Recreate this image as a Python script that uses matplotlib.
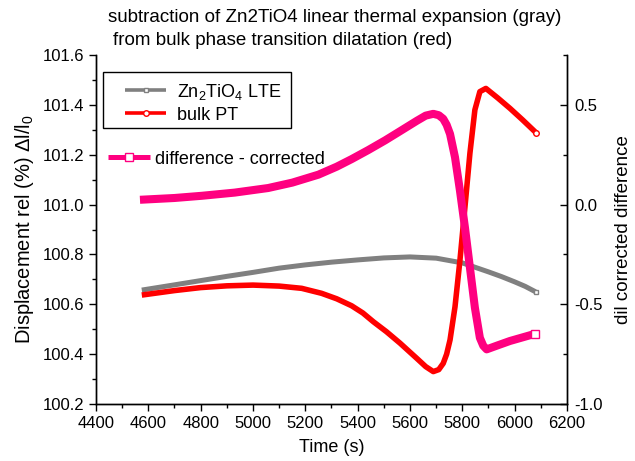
import matplotlib
matplotlib.use("Agg")
import matplotlib.pyplot as plt
from matplotlib.lines import Line2D
from matplotlib.patches import Rectangle
from matplotlib.ticker import MultipleLocator, FormatStrFormatter

plt.rcParams['font.family'] = ['Liberation Sans', 'DejaVu Sans']
plt.rcParams['mathtext.fontset'] = 'custom'
plt.rcParams['mathtext.rm'] = 'Liberation Sans'
plt.rcParams['mathtext.it'] = 'Liberation Sans:italic'

# ---- data ----
t_lte = [4575, 4700, 4800, 4900, 5000, 5100, 5200, 5300, 5400, 5500, 5600, 5700,
         5800, 5900, 5950, 6000, 6040, 6080]
lte = [100.657, 100.678, 100.695, 100.712, 100.728, 100.745, 100.758, 100.769, 100.778,
       100.786, 100.790, 100.785, 100.766, 100.730, 100.711, 100.690, 100.672, 100.650]

t_pt = [4575, 4700, 4800, 4900, 5000, 5100, 5186, 5262, 5320, 5377, 5420, 5460, 5510,
        5562, 5626, 5660, 5689, 5710, 5727, 5740, 5753, 5772, 5791, 5810, 5829, 5848,
        5867, 5890, 5935, 5982, 6030, 6082]
pt = [100.637, 100.655, 100.667, 100.674, 100.677, 100.673, 100.664, 100.644, 100.622,
      100.594, 100.565, 100.530, 100.490, 100.444, 100.383, 100.350, 100.330, 100.338,
      100.363, 100.400, 100.457, 100.590, 100.778, 100.990, 101.206, 101.380, 101.453,
      101.466, 101.428, 101.386, 101.340, 101.288]

t_diff = [4568, 4700, 4804, 4930, 5058, 5150, 5250, 5320, 5377, 5440, 5505, 5562, 5626,
          5660, 5689, 5710, 5727, 5740, 5753, 5772, 5791, 5810, 5829, 5848, 5867, 5880,
          5893, 5935, 5982, 6030, 6078]
diff = [0.024, 0.033, 0.044, 0.060, 0.083, 0.110, 0.150, 0.190, 0.228, 0.273, 0.322,
        0.368, 0.420, 0.446, 0.455, 0.448, 0.430, 0.400, 0.354, 0.237, 0.069, -0.115,
        -0.316, -0.517, -0.668, -0.708, -0.726, -0.706, -0.684, -0.666, -0.648]

GRAY = '#808080'
RED = '#FF0000'
PINK = '#FF0080'

W, H = 635, 461
fig = plt.figure(figsize=(W/100, H/100), dpi=100)
ax = fig.add_axes([96/W, 1-404/H, (567-96)/W, (404-55)/H])
ax2 = ax.twinx()

ax.plot(t_lte, lte, color=GRAY, lw=3.6, solid_capstyle='butt', solid_joinstyle='round', zorder=3)
ax.plot([t_lte[-1]], [lte[-1]], ls='none', marker='s', ms=3.5, mfc='white', mec=GRAY, mew=1, zorder=4)
ax.plot(t_pt, pt, color=RED, lw=4.0, solid_capstyle='butt', solid_joinstyle='round', zorder=3)
ax.plot([t_pt[-1]], [pt[-1]], ls='none', marker='o', ms=4, mfc='white', mec=RED, mew=1, zorder=4)
ax2.plot(t_diff, diff, color=PINK, lw=5.8, solid_capstyle='butt', solid_joinstyle='round', zorder=3)
ax2.plot([t_diff[-1]], [diff[-1]], ls='none', marker='s', ms=6, mfc='white', mec=PINK, mew=1, zorder=4)

ax.set_xlim(4400, 6200)
ax.set_ylim(100.2, 101.6)
ax2.set_ylim(-1.0, 0.75)

ax.xaxis.set_major_locator(MultipleLocator(200))
ax.xaxis.set_minor_locator(MultipleLocator(100))
ax.yaxis.set_major_locator(MultipleLocator(0.2))
ax.yaxis.set_minor_locator(MultipleLocator(0.1))
ax2.yaxis.set_major_locator(MultipleLocator(0.5))
ax2.yaxis.set_minor_locator(MultipleLocator(0.25))
ax.yaxis.set_major_formatter(FormatStrFormatter('%.1f'))
ax2.yaxis.set_major_formatter(matplotlib.ticker.FuncFormatter(lambda v, p: '%.1f' % v))

for a in (ax, ax2):
    a.spines['top'].set_visible(False)
    for s in a.spines.values():
        s.set_linewidth(1.0)
ax.tick_params(axis='both', which='major', direction='out', length=5, width=1, labelsize=12)
ax.tick_params(axis='both', which='minor', direction='out', length=2.8, width=1)
ax2.tick_params(axis='y', which='major', direction='in', length=5, width=1, labelsize=12, pad=5)
ax2.tick_params(axis='y', which='minor', direction='in', length=2.8, width=1)

ax.set_xlabel('Time (s)', fontsize=13, labelpad=6)
ax.set_ylabel(r'Displacement rel (%) $\Delta$l/l$_0$', fontsize=14.5, labelpad=5)
ax2.set_ylabel('dil corrected difference', fontsize=13.5, labelpad=9)

fig.text(108/W, 1-9/H, 'subtraction of Zn2TiO4 linear thermal expansion (gray)',
         fontsize=13.5, ha='left', va='top')
fig.text(113/W, 1-32/H, 'from bulk phase transition dilatation (red)',
         fontsize=13.5, ha='left', va='top')

# ---- legend drawn in pixel positions ----
def fx(x):
    return x / W

def fy(y):
    return 1 - y / H

fig.add_artist(Rectangle((fx(103), fy(128)), fx(291) - fx(103), fy(72) - fy(128),
                         transform=fig.transFigure, fill=False, edgecolor='black', lw=1.0))
entries = [
    (GRAY, 's', 3.5, 2.6, 125, 166, 177, 90, r'Zn$_2$TiO$_4$ LTE'),
    (RED, 'o', 4, 2.6, 125, 166, 177, 113, 'bulk PT'),
    (PINK, 's', 6, 3.6, 108, 150, 155, 157, 'difference - corrected'),
]
for col, mk, ms, lw, x0, x1, xt, yc, lab in entries:
    fig.add_artist(Line2D([fx(x0), fx(x1)], [fy(yc), fy(yc)], transform=fig.transFigure,
                          color=col, lw=lw, solid_capstyle='butt'))
    fig.add_artist(Line2D([fx((x0 + x1) / 2)], [fy(yc)], transform=fig.transFigure,
                          ls='none', marker=mk, ms=ms, mfc='white', mec=col, mew=1))
    fig.text(fx(xt), fy(yc), lab, fontsize=13, ha='left', va='center_baseline')

fig.savefig('out.png', dpi=100)
